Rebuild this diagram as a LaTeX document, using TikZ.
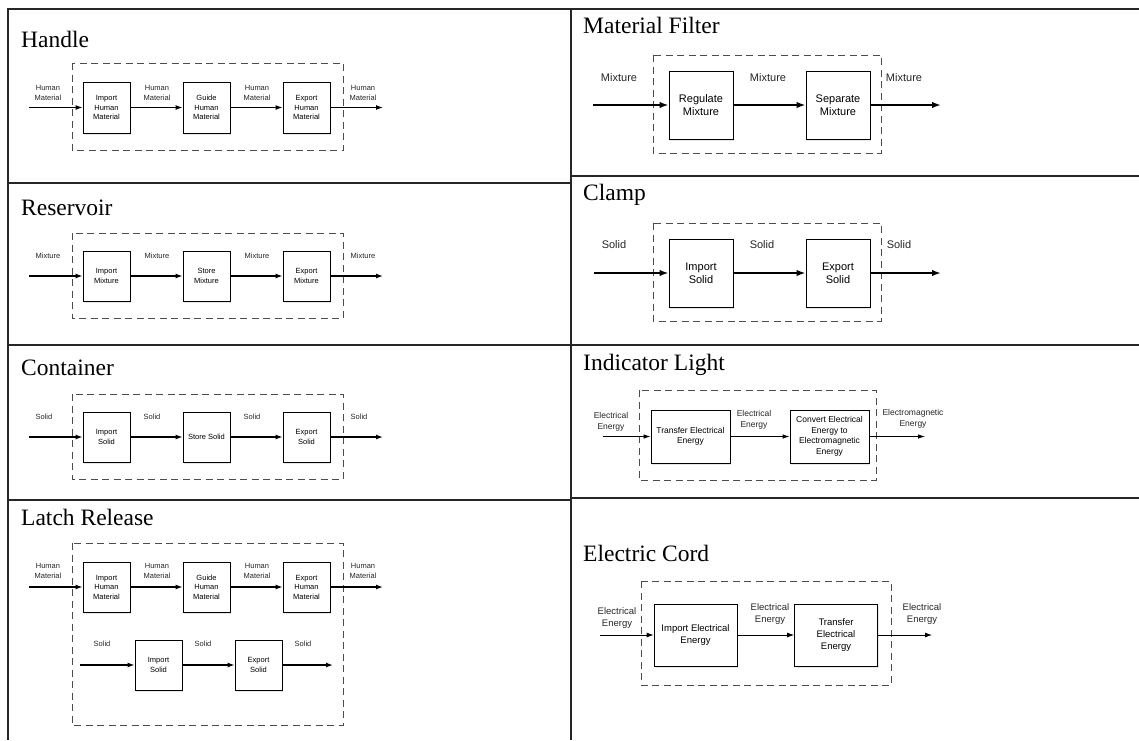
\documentclass[tikz,border=0pt]{standalone}
\usepackage{fontspec}
\setmainfont{Liberation Serif}
\setsansfont{Liberation Sans}
\usetikzlibrary{arrows.meta,shadows}

\tikzset{
  fnbox/.style={draw, fill=white, line width=0.8pt, align=center, inner sep=1pt,
    drop shadow={opacity=0.2, shadow xshift=1pt, shadow yshift=-1.5pt}},
  flowlab/.style={align=center, inner sep=0pt, text=black!85},
  sysframe/.style={draw=black!70, line width=0.9pt, dash pattern=on 7pt off 4.5pt},
  flow/.style={->, line width=1.3pt},
  thinflow/.style={->, line width=0.8pt},
  celltitle/.style={anchor=base west, inner sep=0pt, font=\fontsize{23.5}{28}\selectfont},
  tablerule/.style={line width=1.2pt, black!85},
}

\begin{document}
\begin{tikzpicture}[x=1pt, y=-1pt, >={Latex[length=7pt,width=5pt]}]
  \useasboundingbox (0,0) rectangle (1139,740);

  % --- Table lines ---
  \draw[tablerule] (7,9) -- (1139,9);
  \draw[tablerule] (8,9) -- (8,740) (571,9) -- (571,740);
  \draw[tablerule] (8,183) -- (571,183) (8,345) -- (571,345) (8,500) -- (571,500);
  \draw[tablerule] (571,176) -- (1139,176) (571,345) -- (1139,345) (571,498) -- (1139,498);

  % --- Handle ---
  \node[celltitle] (tHandle) at (21,47) {Handle};
  \begin{scope}[font=\sffamily\fontsize{7.5}{9.5}\selectfont,
      fnbox/.append style={minimum width=47pt, minimum height=51pt}]
    \draw[sysframe] (72,63) rectangle (343,150);
    \node[fnbox] (h1) at (106.5,107.5) {Import\\Human\\Material};
    \node[fnbox] (h2) at (206.5,107.5) {Guide\\Human\\Material};
    \node[fnbox] (h3) at (306.5,107.5) {Export\\Human\\Material};
    \coordinate (hin) at (29,107.5);
    \coordinate (hout) at (383,107.5);
    \draw[flow] (hin) -- (h1);
    \draw[flow] (h1) -- (h2);
    \draw[flow] (h2) -- (h3);
    \draw[flow] (h3) -- (hout);
    \node[flowlab] (hl0) at (48,93) {Human\\Material};
    \node[flowlab] (hl1) at (157,93) {Human\\Material};
    \node[flowlab] (hl2) at (257,93) {Human\\Material};
    \node[flowlab] (hl3) at (363,93) {Human\\Material};
  \end{scope}

  % --- Reservoir ---
  \node[celltitle] (tReservoir) at (21,215) {Reservoir};
  \begin{scope}[font=\sffamily\fontsize{7.5}{9.5}\selectfont,
      fnbox/.append style={minimum width=47pt, minimum height=50pt}]
    \draw[sysframe] (72,233) rectangle (343,318);
    \node[fnbox] (r1) at (106.5,276) {Import\\Mixture};
    \node[fnbox] (r2) at (206.5,276) {Store\\Mixture};
    \node[fnbox] (r3) at (306.5,276) {Export\\Mixture};
    \coordinate (rin) at (29,276);
    \coordinate (rout) at (383,276);
    \draw[flow] (rin) -- (r1);
    \draw[flow] (r1) -- (r2);
    \draw[flow] (r2) -- (r3);
    \draw[flow] (r3) -- (rout);
    \node[flowlab] (rl0) at (48,256) {Mixture};
    \node[flowlab] (rl1) at (157,256) {Mixture};
    \node[flowlab] (rl2) at (257,256) {Mixture};
    \node[flowlab] (rl3) at (363,256) {Mixture};
  \end{scope}

  % --- Container ---
  \node[celltitle] (tContainer) at (21,375) {Container};
  \begin{scope}[font=\sffamily\fontsize{7.5}{9.5}\selectfont,
      fnbox/.append style={minimum width=47pt, minimum height=50pt}]
    \draw[sysframe] (72,394) rectangle (343,479);
    \node[fnbox] (c1) at (106.5,437) {Import\\Solid};
    \node[fnbox] (c2) at (206.5,437) {Store Solid};
    \node[fnbox] (c3) at (306.5,437) {Export\\Solid};
    \coordinate (cin) at (29,437);
    \coordinate (cout) at (383,437);
    \draw[flow] (cin) -- (c1);
    \draw[flow] (c1) -- (c2);
    \draw[flow] (c2) -- (c3);
    \draw[flow] (c3) -- (cout);
    \node[flowlab] (cl0) at (44,417) {Solid};
    \node[flowlab] (cl1) at (152,417) {Solid};
    \node[flowlab] (cl2) at (252,417) {Solid};
    \node[flowlab] (cl3) at (359,417) {Solid};
  \end{scope}

  % --- Latch Release (two flows in one frame) ---
  \node[celltitle] (tLatch) at (21,525) {Latch Release};
  \begin{scope}[font=\sffamily\fontsize{7.5}{9.5}\selectfont,
      fnbox/.append style={minimum width=47pt, minimum height=50pt}]
    \draw[sysframe] (72,543) rectangle (343,725);
    \node[fnbox] (la1) at (106.5,587) {Import\\Human\\Material};
    \node[fnbox] (la2) at (206.5,587) {Guide\\Human\\Material};
    \node[fnbox] (la3) at (306.5,587) {Export\\Human\\Material};
    \coordinate (lain) at (29,587);
    \coordinate (laout) at (383,587);
    \draw[flow] (lain) -- (la1);
    \draw[flow] (la1) -- (la2);
    \draw[flow] (la2) -- (la3);
    \draw[flow] (la3) -- (laout);
    \node[flowlab] (lal0) at (48,571) {Human\\Material};
    \node[flowlab] (lal1) at (157,571) {Human\\Material};
    \node[flowlab] (lal2) at (257,571) {Human\\Material};
    \node[flowlab] (lal3) at (363,571) {Human\\Material};
    % solid flow below
    \node[fnbox] (lb1) at (158.5,665) {Import\\Solid};
    \node[fnbox] (lb2) at (258.5,665) {Export\\Solid};
    \coordinate (lbin) at (80,665);
    \coordinate (lbout) at (333,665);
    \draw[flow] (lbin) -- (lb1);
    \draw[flow] (lb1) -- (lb2);
    \draw[flow] (lb2) -- (lbout);
    \node[flowlab] (lbl0) at (102,644) {Solid};
    \node[flowlab] (lbl1) at (203,644) {Solid};
    \node[flowlab] (lbl2) at (303,644) {Solid};
  \end{scope}

  % --- Material Filter ---
  \node[celltitle] (tFilter) at (583,33) {Material Filter};
  \begin{scope}[font=\sffamily\fontsize{11}{13}\selectfont, >={Latex[length=9pt,width=6.5pt]},
      flow/.append style={line width=2pt},
      fnbox/.append style={minimum width=64pt, minimum height=68pt}]
    \draw[sysframe] (653,55) rectangle (881,153);
    \node[fnbox] (m1) at (701,105) {Regulate\\Mixture};
    \node[fnbox] (m2) at (838,105) {Separate\\Mixture};
    \coordinate (min) at (593,105);
    \coordinate (mout) at (941,105);
    \draw[flow] (min) -- (m1);
    \draw[flow] (m1) -- (m2);
    \draw[flow] (m2) -- (mout);
    \node[flowlab] (ml0) at (619,78) {Mixture};
    \node[flowlab] (ml1) at (768,78) {Mixture};
    \node[flowlab] (ml2) at (904,78) {Mixture};
  \end{scope}

  % --- Clamp ---
  \node[celltitle] (tClamp) at (583,200) {Clamp};
  \begin{scope}[font=\sffamily\fontsize{11}{13}\selectfont, >={Latex[length=9pt,width=6.5pt]},
      flow/.append style={line width=2pt},
      fnbox/.append style={minimum width=64pt, minimum height=68pt}]
    \draw[sysframe] (653,223) rectangle (881,321);
    \node[fnbox] (k1) at (701,273) {Import\\Solid};
    \node[fnbox] (k2) at (838,273) {Export\\Solid};
    \coordinate (kin) at (594,273);
    \coordinate (kout) at (941,273);
    \draw[flow] (kin) -- (k1);
    \draw[flow] (k1) -- (k2);
    \draw[flow] (k2) -- (kout);
    \node[flowlab] (kl0) at (614,245) {Solid};
    \node[flowlab] (kl1) at (762,245) {Solid};
    \node[flowlab] (kl2) at (899,245) {Solid};
  \end{scope}

  % --- Indicator Light ---
  \node[celltitle] (tLight) at (583,370) {Indicator Light};
  \begin{scope}[font=\sffamily\fontsize{8.5}{10.5}\selectfont, >={Latex[length=7pt,width=4.5pt]},
      fnbox/.append style={minimum width=79pt, minimum height=53pt}]
    \draw[sysframe] (639,390) rectangle (876,480);
    \node[fnbox] (i1) at (690.5,436.5) {Transfer Electrical\\Energy};
    \node[fnbox] (i2) at (829.5,436.5) {Convert Electrical\\Energy to\\Electromagnetic\\Energy};
    \coordinate (iin) at (603,436.5);
    \coordinate (iout) at (925,436.5);
    \draw[thinflow] (iin) -- (i1);
    \draw[thinflow] (i1) -- (i2);
    \draw[thinflow] (i2) -- (iout);
    \node[flowlab] (il0) at (611,422) {Electrical\\Energy};
    \node[flowlab] (il1) at (754,420) {Electrical\\Energy};
    \node[flowlab] (il2) at (913,419) {Electromagnetic\\Energy};
  \end{scope}

  % --- Electric Cord ---
  \node[celltitle] (tCord) at (583,561) {Electric Cord};
  \begin{scope}[font=\sffamily\fontsize{9.5}{12}\selectfont, >={Latex[length=7pt,width=5pt]},
      fnbox/.append style={minimum width=83pt, minimum height=62pt}]
    \draw[sysframe] (641,581) rectangle (891,685);
    \node[fnbox] (e1) at (695.5,635) {Import Electrical\\Energy};
    \node[fnbox] (e2) at (836,635) {Transfer\\Electrical\\Energy};
    \coordinate (ein) at (600,635);
    \coordinate (eout) at (932,635);
    \draw[thinflow] (ein) -- (e1);
    \draw[thinflow] (e1) -- (e2);
    \draw[thinflow] (e2) -- (eout);
    \node[flowlab] (el0) at (617,618) {Electrical\\Energy};
    \node[flowlab] (el1) at (770,614) {Electrical\\Energy};
    \node[flowlab] (el2) at (922,614) {Electrical\\Energy};
  \end{scope}

\end{tikzpicture}
\end{document}
